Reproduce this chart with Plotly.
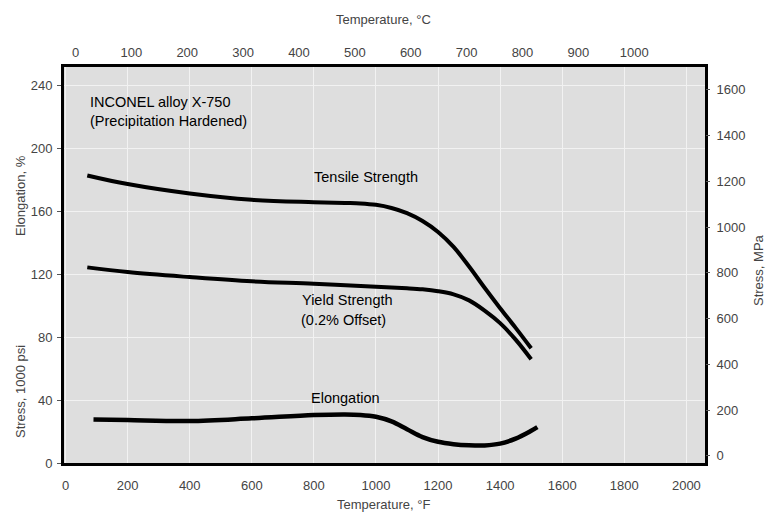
import plotly.graph_objects as go

# ---- data ----
temp_tensile_F = [70, 200, 400, 600, 800, 900, 950, 1000, 1050, 1100, 1150, 1200, 1250, 1300, 1350, 1400, 1450, 1500]
tensile_ksi = [183, 177.5, 171.5, 167.5, 166, 165.5, 165.2, 164.3, 162.3, 159, 154, 147, 137.5, 125, 111.5, 98.5, 86, 73]

temp_yield_F = [70, 200, 400, 600, 800, 1000, 1100, 1150, 1200, 1250, 1300, 1350, 1400, 1450, 1500]
yield_ksi = [124.5, 121.5, 118.3, 115.6, 114.1, 112.2, 111.2, 110.5, 109.3, 107.3, 103.5, 97, 89, 78.5, 66]

temp_elong_F = [90, 200, 400, 600, 800, 900, 950, 1000, 1050, 1100, 1150, 1200, 1250, 1300, 1350, 1400, 1450, 1500, 1520]
elongation_pct = [27.7, 27.3, 26.7, 28.4, 30.5, 30.9, 30.6, 29.4, 26.5, 21.5, 16.5, 13.5, 12, 11.3, 11.2, 12.3, 15.5, 20.5, 22.8]

left_ticks = [0, 40, 80, 120, 160, 200, 240]
right_ticks = [0, 200, 400, 600, 800, 1000, 1200, 1400, 1600]
bottom_ticks = [0, 200, 400, 600, 800, 1000, 1200, 1400, 1600, 1800, 2000]
top_ticks = [0, 100, 200, 300, 400, 500, 600, 700, 800, 900, 1000]

x_range_F = [-5, 2060]
x_range_C = [(v - 32) / 1.8 for v in x_range_F]

FONT = "Liberation Sans, Arial, sans-serif"
TICKCOL = "#444444"

fig = go.Figure()
fig.add_trace(go.Scatter(x=temp_tensile_F, y=tensile_ksi, mode="lines",
                         line=dict(color="black", width=4, shape="spline", smoothing=1.0),
                         showlegend=False, hoverinfo="skip"))
fig.add_trace(go.Scatter(x=temp_yield_F, y=yield_ksi, mode="lines",
                         line=dict(color="black", width=4, shape="spline", smoothing=1.0),
                         showlegend=False, hoverinfo="skip"))
fig.add_trace(go.Scatter(x=temp_elong_F, y=elongation_pct, mode="lines",
                         line=dict(color="black", width=4.5, shape="spline", smoothing=1.0),
                         showlegend=False, hoverinfo="skip"))
# invisible trace to carry the secondary axes (°C top, MPa right)
fig.add_trace(go.Scatter(x=[0], y=[0], xaxis="x2", yaxis="y2", mode="markers",
                         marker=dict(opacity=0), showlegend=False, hoverinfo="skip"))

axis_common = dict(showline=True, linecolor="black", linewidth=3, zeroline=False,
                   tickfont=dict(family=FONT, size=13, color=TICKCOL))

fig.update_layout(
    width=771, height=519,
    margin=dict(l=64, r=66, t=67, b=56),
    paper_bgcolor="white",
    plot_bgcolor="#dedede",
    font=dict(family=FONT, color="black"),
    xaxis=dict(range=x_range_F, tickvals=bottom_ticks, ticks="", ticklabelstandoff=8,
               showgrid=True, gridcolor="#f2f2f2", gridwidth=1, mirror=True, **axis_common),
    yaxis=dict(range=[0, 252], tickvals=left_ticks, ticks="outside", ticklen=4,
               tickcolor="#555555", ticklabelstandoff=2,
               showgrid=True, gridcolor="#f2f2f2", gridwidth=1, mirror=True, **axis_common),
    xaxis2=dict(range=x_range_C, tickvals=top_ticks, overlaying="x", side="top",
                ticks="", ticklabelstandoff=6, showgrid=False,
                showline=False, zeroline=False,
                tickfont=dict(family=FONT, size=13, color=TICKCOL)),
    yaxis2=dict(range=[-31, 1700], tickvals=right_ticks, overlaying="y", side="right",
                ticks="outside", ticklen=4, tickcolor="#555555", ticklabelstandoff=4,
                showgrid=False, showline=False, zeroline=False,
                tickfont=dict(family=FONT, size=13, color=TICKCOL)),
)

ann = [
    dict(text="INCONEL alloy X-750", x=88, y=102, xanchor="left", size=14.5),
    dict(text="(Precipitation Hardened)", x=88, y=121, xanchor="left", size=14.5),
    dict(text="Tensile Strength", x=366, y=177, xanchor="center", size=14.5),
    dict(text="Yield Strength", x=347, y=300, xanchor="center", size=14.5),
    dict(text="(0.2% Offset)", x=343, y=320, xanchor="center", size=14.5),
    dict(text="Elongation", x=345, y=398, xanchor="center", size=14.5),
]
for a in ann:
    fig.add_annotation(text=a["text"], xref="paper", yref="paper",
                       x=(a["x"] - 64) / (705 - 64), y=(463 - a["y"]) / (463 - 67),
                       xanchor=a["xanchor"], yanchor="middle", showarrow=False,
                       font=dict(family=FONT, size=a["size"], color="black"))

# axis titles (placed in pixel positions of the reference)
titles = [
    dict(text="Temperature, °C", x=383, y=19, angle=0),
    dict(text="Temperature, °F", x=383, y=505, angle=0),
    dict(text="Stress, 1000 psi", x=20, y=392, angle=-90),
    dict(text="Elongation, %", x=20, y=196, angle=-90),
    dict(text="Stress, MPa", x=758, y=270, angle=-90),
]
for t in titles:
    fig.add_annotation(text=t["text"], xref="paper", yref="paper",
                       x=(t["x"] - 64) / (705 - 64), y=(463 - t["y"]) / (463 - 67),
                       xanchor="center", yanchor="middle", textangle=t["angle"],
                       showarrow=False, font=dict(family=FONT, size=13, color=TICKCOL))

fig.write_html("out.html")
